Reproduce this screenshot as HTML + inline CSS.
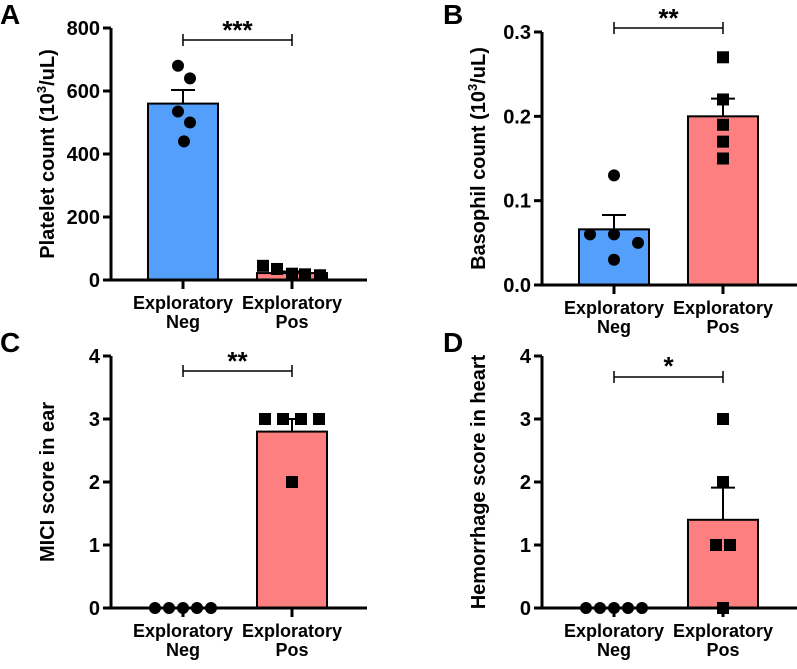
<!DOCTYPE html>
<html><head><meta charset="utf-8"><style>
body{margin:0;background:#fff}
svg text{font-family:"Liberation Sans",sans-serif;font-weight:bold;fill:#000}
</style></head><body>
<svg id="s" width="797" height="664"></svg>
<script>
const groups=["Exploratory Neg","Exploratory Pos"];
const aNeg=[680,640,535,500,440], aPos=[45,35,20,18,15], aMean=[560,22], aSem=[43,5];
const bNeg=[0.13,0.06,0.06,0.05,0.03], bPos=[0.27,0.22,0.19,0.17,0.15], bMean=[0.066,0.2], bSem=[0.017,0.021];
const cNeg=[0,0,0,0,0], cPos=[3,3,3,3,2], cMean=[0,2.8], cSem=[0,0.2];
const dNeg=[0,0,0,0,0], dPos=[3,2,1,1,0], dMean=[0,1.4], dSem=[0,0.51];
const aTicks=[0,200,400,600,800], bTicks=[0,0.1,0.2,0.3], cTicks=[0,1,2,3,4], dTicks=[0,1,2,3,4];
const aTickLbl=["0","200","400","600","800"], bTickLbl=["0.0","0.1","0.2","0.3"], cTickLbl=["0","1","2","3","4"], dTickLbl=cTickLbl;
const NS="http://www.w3.org/2000/svg", S=document.getElementById('s');
function el(t,a,p){const e=document.createElementNS(NS,t);for(const k in a)e.setAttribute(k,a[k]);(p||S).appendChild(e);return e;}
function panel(o){
 const g=el('g',{});
 
 
 const y=v=>o.y0-(v/o.max)*(o.y0-o.yTop);
 const cx=[o.ax+72,o.ax+181];
 const cols=['#539ffb','#fe7f7f'];
 [0,1].forEach(i=>{
  const h=o.y0-y(o.mean[i]);
  if(h>0.5){const r=el('rect',{x:cx[i]-35,y:y(o.mean[i]),width:70,height:h,fill:cols[i],stroke:'#000','stroke-width':2},g);
  
  }
  if(o.sem[i]>0){
   el('line',{x1:cx[i],x2:cx[i],y1:y(o.mean[i]),y2:y(o.mean[i]+o.sem[i]),stroke:'#000','stroke-width':2},g);
   el('line',{x1:cx[i]-12,x2:cx[i]+12,y1:y(o.mean[i]+o.sem[i]),y2:y(o.mean[i]+o.sem[i]),stroke:'#000','stroke-width':2},g);
  }
 });
 el('line',{x1:o.ax,x2:o.ax,y1:o.yTop,y2:o.y0,stroke:'#000','stroke-width':3},g);
 el('line',{x1:o.ax,x2:o.ax+256,y1:o.y0,y2:o.y0,stroke:'#000','stroke-width':3},g);
 o.ticks.forEach((t,i)=>{
  el('line',{x1:o.ax-8,x2:o.ax,y1:y(t),y2:y(t),stroke:'#000','stroke-width':3},g);
  const tx=el('text',{x:o.ax-11,y:y(t)+7,'text-anchor':'end','font-size':20},g);tx.textContent=o.tl[i];
  
  
 });
 cx.forEach((c,i)=>{
  el('line',{x1:c,x2:c,y1:o.y0,y2:o.y0+9,stroke:'#000','stroke-width':3},g);
  const w=groups[i].split(' ');
  const t1=el('text',{x:c,y:o.y0+29,'text-anchor':'middle','font-size':18},g);t1.textContent=w[0];
  const t2=el('text',{x:c,y:o.y0+48,'text-anchor':'middle','font-size':18},g);t2.textContent=w[1];
  
  
 });
 o.neg.forEach((v,i)=>{const c=el('circle',{cx:cx[0]+o.negJ[i],cy:y(v),r:6,fill:'#000'},g);
  
  });
 o.pos.forEach((v,i)=>{const r=el('rect',{x:cx[1]+o.posJ[i]-6,y:y(v)-6,width:12,height:12,fill:'#000'},g);
  
  });
 el('line',{x1:cx[0],x2:cx[1],y1:o.by,y2:o.by,stroke:'#000','stroke-width':1.5},g);
 el('line',{x1:cx[0],x2:cx[0],y1:o.by-6,y2:o.by+6,stroke:'#000','stroke-width':1.5},g);
 el('line',{x1:cx[1],x2:cx[1],y1:o.by-6,y2:o.by+6,stroke:'#000','stroke-width':1.5},g);
 const st=el('text',{x:(cx[0]+cx[1])/2,y:o.by+o.sdy,'text-anchor':'middle','font-size':26},g);st.textContent=o.stars;
 
 
 const yt=el('text',{transform:`translate(${o.ax-57},${(o.y0+o.yTop)/2}) rotate(-90)`,'text-anchor':'middle','font-size':20},g);
 yt.innerHTML=o.title;
 
 
 const L=el('text',{x:o.lx,y:o.ly,'font-size':28},g);L.textContent=o.id;
 
 
}
panel({id:'A',ax:111,yTop:28,y0:280,max:800,ticks:aTicks,tl:aTickLbl,mean:aMean,sem:aSem,neg:aNeg,pos:aPos,negJ:[-5,7,-5,7,1],posJ:[-29,-15,0,13,28],by:40,sdy:-1,stars:'***',title:'Platelet count (10<tspan font-size="13" dy="-8">3</tspan><tspan dy="8">/uL)</tspan>',lx:0,ly:24});
panel({id:'B',ax:542,yTop:32,y0:285,max:0.3,ticks:bTicks,tl:bTickLbl,mean:bMean,sem:bSem,neg:bNeg,pos:bPos,negJ:[0,-24,0,24,0],posJ:[0,0,0,0,0],by:28,sdy:-1,stars:'**',title:'Basophil count (10<tspan font-size="13" dy="-8">3</tspan><tspan dy="8">/uL)</tspan>',lx:443,ly:24});
panel({id:'C',ax:111,yTop:356,y0:608,max:4,ticks:cTicks,tl:cTickLbl,mean:cMean,sem:cSem,neg:cNeg,pos:cPos,negJ:[-28,-14,0,14,28],posJ:[-27,-9,9,27,0],by:371,sdy:-1,stars:'**',title:'MICI score in ear',lx:0,ly:352});
panel({id:'D',ax:542,yTop:356,y0:608,max:4,ticks:dTicks,tl:dTickLbl,mean:dMean,sem:dSem,neg:dNeg,pos:dPos,negJ:[-28,-14,0,14,28],posJ:[0,0,-7,7,0],by:377,sdy:-2,stars:'*',title:'Hemorrhage score in heart',lx:443,ly:352});
</script>
</body></html>
